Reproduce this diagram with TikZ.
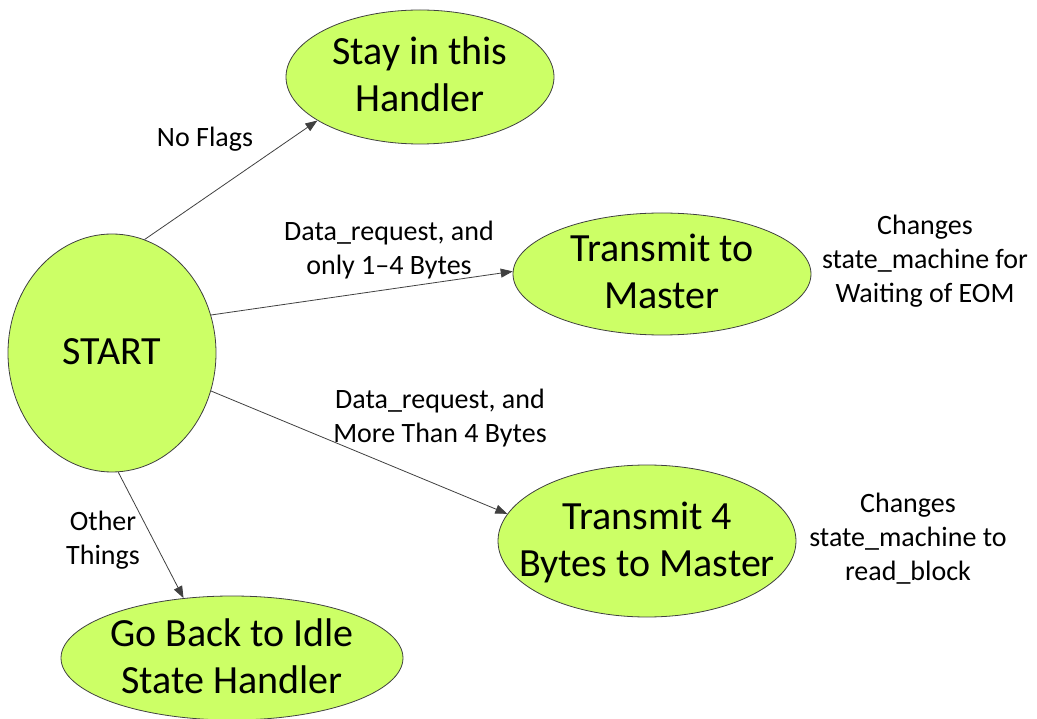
\documentclass[tikz,border=0pt]{standalone}
\usepackage{fontspec}
\setmainfont{Carlito}
\usetikzlibrary{shapes.geometric,arrows.meta}
\definecolor{statefill}{RGB}{204,255,102}
\definecolor{edgegray}{RGB}{64,64,64}
% fixed-height struts so every line of a node has the same box
\newcommand{\tallln}{\vrule height35pt depth12pt width0pt}
\newcommand{\shortln}{\vrule height24pt depth10pt width0pt}
\begin{document}
\begin{tikzpicture}[x=1pt,y=-1pt,
  state/.style={ellipse, draw=edgegray, line width=0.8pt, fill=statefill, inner sep=0pt},
  bigtext/.style={align=center, inner sep=0pt, font=\fontsize{40}{47}\selectfont},
  smalltext/.style={align=center, inner sep=0pt, font=\fontsize{28}{34}\selectfont},
  flow/.style={draw=edgegray, line width=0.8pt, -{Triangle[length=12pt,width=9pt]}}]
\useasboundingbox (0,0) rectangle (1037,719);

% states
\node[state, minimum width=208pt, minimum height=238pt] (start) at (112,353) {};
\node[bigtext] (starttxt) at (start.center) {\tallln START};

\node[state, minimum width=268pt, minimum height=134pt] (stay) at (420,77) {};
\node[bigtext] (staytxt) at (stay.center) {\tallln Stay in this\\\tallln Handler};

\node[state, minimum width=298pt, minimum height=122pt] (tm) at (662,274) {};
\node[bigtext] (tmtxt) at (tm.center) {\tallln Transmit to\\\tallln Master};

\node[state, minimum width=298pt, minimum height=152pt] (tf) at (647,541) {};
\node[bigtext] (tftxt) at (tf.center) {\tallln Transmit 4\\\tallln Bytes to Master};

\node[state, minimum width=342pt, minimum height=124pt] (idle) at (232,658) {};
\node[bigtext] (idletxt) at (idle.center) {\tallln Go Back to Idle\\\tallln State Handler};

% transitions
\draw[flow] (start.74.5) -- (stay.203.8);
\draw[flow] (start.21.8) -- (tm.179);
\draw[flow] (start.-21.3) -- (tf.169.8);
\draw[flow] (start.-87.6) -- (idle.129);

% transition labels
\node[smalltext] (lflags) at (205,140) {\shortln No Flags};
\node[smalltext] (lsmall) at (389,250.5) {\shortln Data\_request, and\\\shortln only 1--4 Bytes};
\node[smalltext] (lbig) at (440,418.5) {\shortln Data\_request, and\\\shortln More Than 4 Bytes};
\node[smalltext] (lother) at (103,540.5) {\shortln Other\\\shortln Things};

% side notes
\node[smalltext] (ntm) at (925,262) {\shortln Changes\\\shortln state\_machine for\\\shortln Waiting of EOM};
\node[smalltext] (ntf) at (908,539) {\shortln Changes\\\shortln state\_machine to\\\shortln read\_block};
\end{tikzpicture}
\end{document}
